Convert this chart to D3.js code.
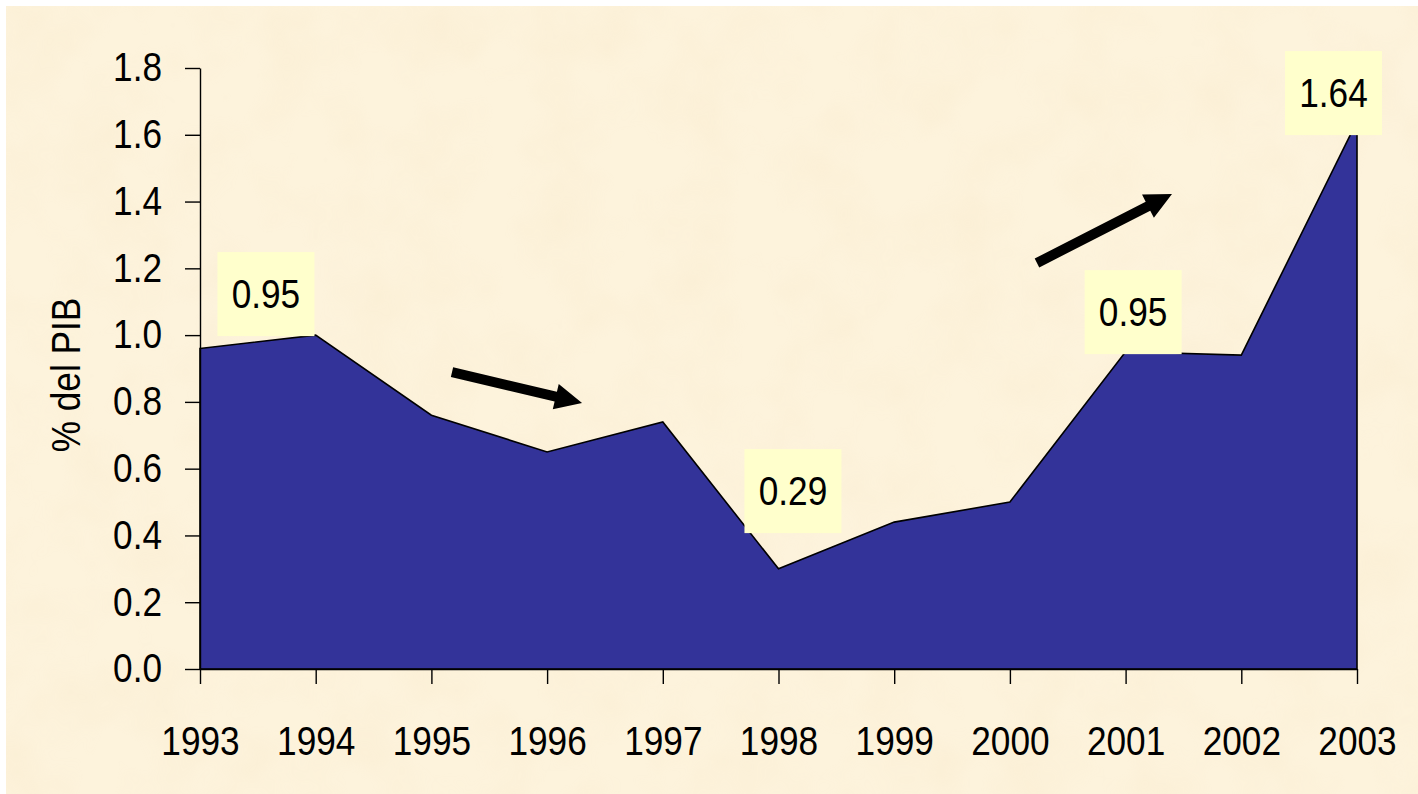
<!DOCTYPE html>
<html>
<head>
<meta charset="utf-8">
<script src="https://cdn.jsdelivr.net/npm/d3@7"></script>
<style>
  html, body { margin: 0; padding: 0; background: #ffffff; }
  svg { display: block; }
  text { font-family: "Liberation Sans", Arial, sans-serif; fill: #000; }
</style>
</head>
<body>
<svg id="chart" width="1418" height="794"></svg>
<script>
// ---- data ----
const years = [1993, 1994, 1995, 1996, 1997, 1998, 1999, 2000, 2001, 2002, 2003];
const values = [0.96, 1.00, 0.76, 0.65, 0.74, 0.30, 0.44, 0.50, 0.95, 0.94, 1.64];
const yTicks = [0.0, 0.2, 0.4, 0.6, 0.8, 1.0, 1.2, 1.4, 1.6, 1.8];
const yTitle = "% del PIB";

// callout labels: text, anchor year (box centre), anchor value (box bottom)
const labelTexts = ["0.95", "0.29", "0.95", "1.64"];
const labelYears = [1993.57, 1998.125, 2001.065, 2002.797];
const labelValues = [0.997, 0.407, 0.943, 1.599];

// trend arrows: start (year, value) -> end (year, value)
const arrowFromYears = [1995.178, 2000.234];
const arrowFromValues = [0.889, 1.216];
const arrowToYears = [1996.302, 2001.401];
const arrowToValues = [0.797, 1.423];

// ---- layout ----
const W = 1418, H = 794;
const margin = { top: 68, right: 61, bottom: 125, left: 200 };
const svg = d3.select("#chart");

// background with parchment texture
const defs = svg.append("defs");
const filt = defs.append("filter").attr("id", "paper").attr("x", 0).attr("y", 0).attr("width", "100%").attr("height", "100%");
filt.append("feTurbulence").attr("type", "fractalNoise").attr("baseFrequency", "0.015").attr("numOctaves", 3).attr("seed", 4).attr("result", "noise");
filt.append("feColorMatrix").attr("in", "noise").attr("type", "matrix")
  .attr("values", "0 0 0 0 0.93  0 0 0 0 0.80  0 0 0 0 0.58  0 0 0 -1.4 0.85");

svg.append("rect").attr("x", 6).attr("y", 6).attr("width", W - 6).attr("height", H - 6).attr("fill", "#fdf3dc");
svg.append("rect").attr("x", 6).attr("y", 6).attr("width", W - 6).attr("height", H - 6).attr("fill", "#fff").attr("filter", "url(#paper)").attr("opacity", 0.4);

const x = d3.scaleLinear().domain([1993, 2003]).range([margin.left, W - margin.right]);
const y = d3.scaleLinear().domain([0, 1.8]).range([H - margin.bottom, margin.top]);

// area
const area = d3.area().x((d, i) => x(years[i])).y0(y(0)).y1(d => y(d));
svg.append("path").datum(values).attr("d", area)
  .attr("fill", "#333399").attr("stroke", "#000").attr("stroke-width", 1.6).attr("stroke-linejoin", "miter");

// axes
const yAxis = d3.axisLeft(y).tickValues(yTicks).tickFormat(d3.format(".1f")).tickSize(15).tickSizeOuter(0).tickPadding(23);
const gy = svg.append("g").attr("transform", `translate(${margin.left},0)`).call(yAxis);
gy.selectAll("line, path").attr("stroke", "#000").attr("stroke-width", 1.4);

const xAxis = d3.axisBottom(x).tickValues(years).tickFormat(d3.format("d")).tickSize(15).tickSizeOuter(0).tickPadding(43);
const gx = svg.append("g").attr("transform", `translate(0,${y(0)})`).call(xAxis);
gx.selectAll("line, path").attr("stroke", "#000").attr("stroke-width", 1.4);
svg.selectAll(".tick text").attr("font-size", 40).attr("font-family", null).attr("fill", "#000");

// y title
svg.append("text")
  .attr("transform", `translate(${66},${375}) rotate(-90)`)
  .attr("text-anchor", "middle").attr("dominant-baseline", "central")
  .attr("font-size", 40).text(yTitle);

// callout boxes
const boxW = 97, boxH = 84;
const lbl = svg.append("g").selectAll("g").data(labelTexts).join("g")
  .attr("transform", (d, i) => `translate(${x(labelYears[i])},${y(labelValues[i])})`);
lbl.append("rect").attr("x", -boxW / 2).attr("y", -boxH).attr("width", boxW).attr("height", boxH).attr("fill", "#ffffcc");
lbl.append("text").attr("x", 0).attr("y", -boxH / 2 + 14).attr("text-anchor", "middle").attr("font-size", 40).text(d => d);

// condense all text (reference uses a condensed face)
svg.selectAll("text").each(function () {
  const len = this.getComputedTextLength();
  d3.select(this).attr("textLength", (len * 0.88).toFixed(1)).attr("lengthAdjust", "spacingAndGlyphs");
});

// arrows
const shaft = 5, headLen = 27, headHalf = 13;
const arrowG = svg.append("g");
arrowFromYears.forEach((_, i) => {
  const x0 = x(arrowFromYears[i]), y0 = y(arrowFromValues[i]);
  const x1 = x(arrowToYears[i]), y1 = y(arrowToValues[i]);
  const dx = x1 - x0, dy = y1 - y0, L = Math.hypot(dx, dy);
  const ux = dx / L, uy = dy / L, nx = -uy, ny = ux;
  const bx = x1 - ux * headLen, by = y1 - uy * headLen;
  const pts = [
    [x0 + nx * shaft, y0 + ny * shaft],
    [bx + nx * shaft, by + ny * shaft],
    [bx + nx * headHalf, by + ny * headHalf],
    [x1, y1],
    [bx - nx * headHalf, by - ny * headHalf],
    [bx - nx * shaft, by - ny * shaft],
    [x0 - nx * shaft, y0 - ny * shaft]
  ];
  arrowG.append("path").attr("d", d3.line()(pts) + "Z").attr("fill", "#000");
});
</script>
</body>
</html>
